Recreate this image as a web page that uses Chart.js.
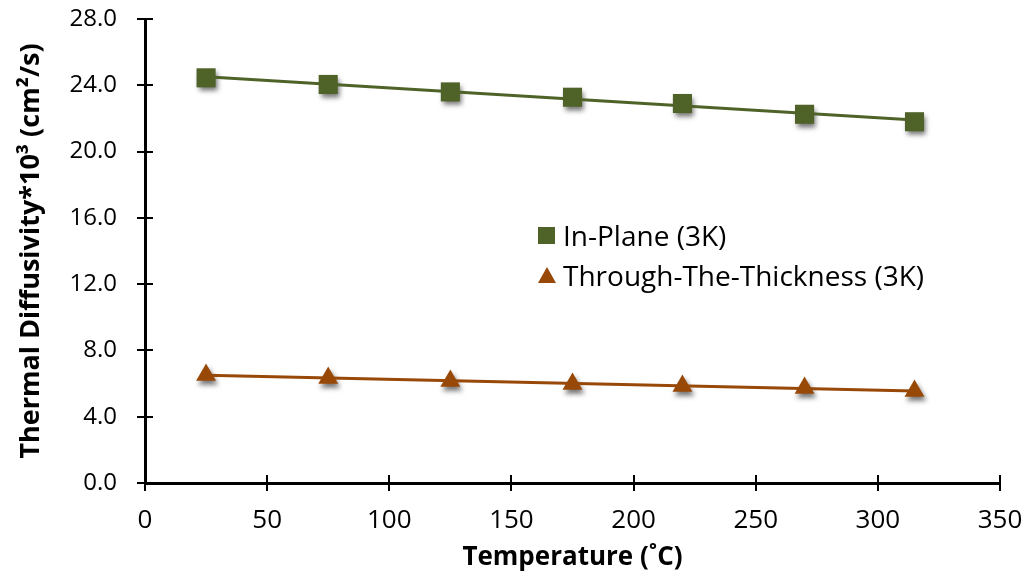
<!DOCTYPE html>
<html>
<head>
<meta charset="utf-8">
<script src="https://cdn.jsdelivr.net/npm/chart.js@4/dist/chart.umd.min.js"></script>
<style>
    html, body { margin: 0; padding: 0; background: #fff; }
    #wrap { position: relative; width: 1029px; height: 581px; }
    #legend {
        position: absolute; left: 538px; top: 215px;
        font-family: 'Open Sans', sans-serif; font-size: 28px; color: #000;
    }
    .leg-row { display: flex; align-items: center; height: 40px; white-space: nowrap; }
    .leg-sq { width: 17px; height: 17px; background: #4f6228; margin-right: 8px; }
    .leg-tri { width: 0; height: 0; border-left: 9px solid transparent; border-right: 9px solid transparent;
        border-bottom: 16px solid #984807; margin-right: 7px; }
</style>
</head>
<body>
<div id="wrap">
    <canvas id="chart" width="1029" height="581"></canvas>
    <div id="legend">
        <div class="leg-row"><span class="leg-sq"></span>In-Plane (3K)</div>
        <div class="leg-row"><span class="leg-tri"></span>Through-The-Thickness (3K)</div>
    </div>
</div>
<script>
// Data
const temperatures = [25, 75, 125, 175, 220, 270, 315];
const inPlane = [24.45, 24.05, 23.6, 23.28, 22.9, 22.25, 21.8];
const throughThickness = [6.52, 6.34, 6.15, 5.97, 5.85, 5.73, 5.55];
const xTicks = [0, 50, 100, 150, 200, 250, 300, 350];
const yTicks = [0, 4, 8, 12, 16, 20, 24, 28];

const GREEN = '#4f6228';
const ORANGE = '#984807';
const FONT = "'Open Sans', sans-serif";

function toPoints(xs, ys) {
    return xs.map((x, i) => ({ x: x, y: ys[i] }));
}

// Linear trend line (least squares), like the spreadsheet trendline
function trendLine(xs, ys) {
    const n = xs.length;
    const mx = xs.reduce((a, b) => a + b, 0) / n;
    const my = ys.reduce((a, b) => a + b, 0) / n;
    let sxy = 0, sxx = 0;
    for (let i = 0; i < n; i++) {
        sxy += (xs[i] - mx) * (ys[i] - my);
        sxx += (xs[i] - mx) * (xs[i] - mx);
    }
    const slope = sxy / sxx;
    const x0 = xs[0], x1 = xs[n - 1];
    return [
        { x: x0, y: my + slope * (x0 - mx) },
        { x: x1, y: my + slope * (x1 - mx) }
    ];
}

// Shadow under the markers
const markerShadow = {
    id: 'markerShadow',
    beforeDatasetDraw(chart, args) {
        if (!args.meta._dataset.shadow) return;
        const ctx = chart.ctx;
        ctx.save();
        ctx.shadowColor = 'rgba(0,0,0,0.55)';
        ctx.shadowBlur = 5;
        ctx.shadowOffsetX = 2;
        ctx.shadowOffsetY = 4;
    },
    afterDatasetDraw(chart, args) {
        if (!args.meta._dataset.shadow) return;
        chart.ctx.restore();
    }
};

// Tick marks crossing into the plot area
const innerTicks = {
    id: 'innerTicks',
    afterDraw(chart) {
        const ctx = chart.ctx;
        const xs = chart.scales.x, ys = chart.scales.y;
        const area = chart.chartArea;
        ctx.save();
        ctx.strokeStyle = '#000';
        ctx.lineWidth = 2;
        ctx.beginPath();
        xTicks.forEach(v => {
            const px = Math.round(xs.getPixelForValue(v));
            ctx.moveTo(px, area.bottom);
            ctx.lineTo(px, area.bottom - 8);
        });
        yTicks.forEach(v => {
            const py = Math.round(ys.getPixelForValue(v));
            ctx.moveTo(area.left, py);
            ctx.lineTo(area.left + 8, py);
        });
        ctx.stroke();
        ctx.restore();
    }
};

new Chart(document.getElementById('chart'), {
    type: 'scatter',
    data: {
        datasets: [
            {
                type: 'line',
                data: trendLine(temperatures, inPlane),
                borderColor: GREEN,
                borderWidth: 3,
                pointRadius: 0,
                fill: false
            },
            {
                type: 'line',
                data: trendLine(temperatures, throughThickness),
                borderColor: ORANGE,
                borderWidth: 3,
                pointRadius: 0,
                fill: false
            },
            {
                label: 'In-Plane (3K)',
                data: toPoints(temperatures, inPlane),
                pointStyle: 'rect',
                pointRadius: 13.5,
                pointHoverRadius: 13.5,
                backgroundColor: GREEN,
                borderColor: GREEN,
                borderWidth: 0,
                shadow: true
            },
            {
                label: 'Through-The-Thickness (3K)',
                data: toPoints(temperatures, throughThickness),
                pointStyle: 'triangle',
                pointRadius: 11.5,
                pointHoverRadius: 11.5,
                backgroundColor: ORANGE,
                borderColor: ORANGE,
                borderWidth: 0,
                shadow: true
            }
        ]
    },
    options: {
        responsive: false,
        animation: false,
        layout: { padding: { left: 15, right: 29, top: 19, bottom: 8 } },
        plugins: {
            legend: { display: false },
            tooltip: { enabled: false }
        },
        scales: {
            x: {
                type: 'linear',
                min: 0,
                max: 350,
                afterBuildTicks(scale) { scale.ticks = xTicks.map(v => ({ value: v })); },
                afterFit(scale) {
                    scale.height = 90;
                    scale.paddingLeft = 0;
                    scale.paddingRight = 0;
                },
                grid: { drawOnChartArea: false, color: '#000', lineWidth: 2, tickLength: 8 },
                border: { color: '#000', width: 3 },
                ticks: {
                    color: '#000',
                    padding: 14,
                    font: { family: FONT, size: 26 },
                    maxRotation: 0
                },
                title: {
                    display: true,
                    text: 'Temperature (˚C)',
                    color: '#000',
                    padding: { top: 0, bottom: 0 },
                    font: { family: FONT, size: 26, weight: 'bold' }
                }
            },
            y: {
                type: 'linear',
                min: 0,
                max: 28,
                afterBuildTicks(scale) { scale.ticks = yTicks.map(v => ({ value: v })); },
                afterFit(scale) {
                    scale.width = 130;
                    scale.paddingTop = 0;
                    scale.paddingBottom = 0;
                },
                grid: { drawOnChartArea: false, color: '#000', lineWidth: 2, tickLength: 8 },
                border: { color: '#000', width: 3 },
                ticks: {
                    color: '#000',
                    padding: 20,
                    font: { family: FONT, size: 24 },
                    callback: v => v.toFixed(1)
                },
                title: {
                    display: true,
                    text: 'Thermal Diffusivity*10³ (cm²/s)',
                    color: '#000',
                    padding: { top: 0, bottom: 0 },
                    font: { family: FONT, size: 27, weight: 'bold' }
                }
            }
        }
    },
    plugins: [markerShadow, innerTicks]
});
</script>
</body>
</html>
